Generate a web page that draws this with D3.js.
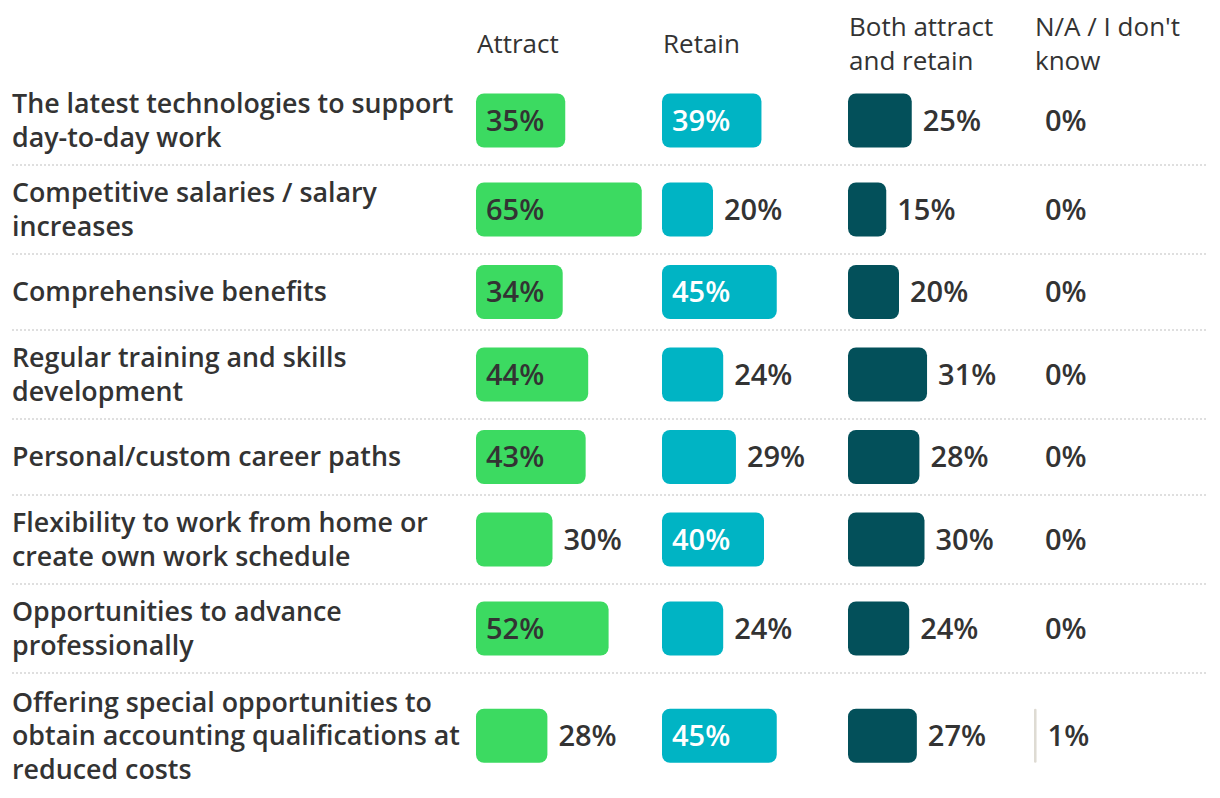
<!DOCTYPE html>
<html>
<head>
<meta charset="utf-8">
<script src="https://cdn.jsdelivr.net/npm/d3@7"></script>
<style>
  html, body { margin: 0; padding: 0; background: #ffffff; }
  svg { display: block; }
</style>
</head>
<body>
<svg id="chart" width="1220" height="798"></svg>
<script>
// ---- Data ----
const categories = [
  ["The latest technologies to support", "day-to-day work"],
  ["Competitive salaries / salary", "increases"],
  ["Comprehensive benefits"],
  ["Regular training and skills", "development"],
  ["Personal/custom career paths"],
  ["Flexibility to work from home or", "create own work schedule"],
  ["Opportunities to advance", "professionally"],
  ["Offering special opportunities to", "obtain accounting qualifications at", "reduced costs"]
];
const seriesNames = ["Attract", "Retain", "Both attract and retain", "N/A / I don't know"];
const headerLines = [["Attract"], ["Retain"], ["Both attract", "and retain"], ["N/A / I don't", "know"]];
const attract = [35, 65, 34, 44, 43, 30, 52, 28];
const retain  = [39, 20, 45, 24, 29, 40, 24, 45];
const both    = [25, 15, 20, 31, 28, 30, 24, 27];
const na      = [0, 0, 0, 0, 0, 0, 0, 1];
const seriesValues = [attract, retain, both, na];

// ---- Styles ----
const colors = ["#3cda61", "#00b4c4", "#03505a", "#dedbd3"];
const insideText = ["#333333", "#ffffff", "#ffffff", "#333333"];
const textColor = "#333333";

const svg = d3.select("#chart");

const colScale = d3.scalePoint().domain(seriesNames).range([476, 1034]);
const x = d3.scaleLinear().domain([0, 100]).range([0, 255]);

const lineH = 33.5, barH = 54, pad = 22, top0 = 76;
const rowHeights = categories.map(c => Math.max(barH, c.length * lineH) + pad + (c.length > 2 ? 3 : 0));
const rowTops = [];
rowHeights.reduce((acc, h) => { rowTops.push(acc); return acc + h; }, top0);
const rowCenter = i => rowTops[i] + rowHeights[i] / 2;

// header
const hdr = svg.append("g");
seriesNames.forEach((s, j) => {
  const lines = headerLines[j];
  const t = hdr.append("text")
    .attr("font-family", "'Open Sans', sans-serif")
    .attr("font-weight", 400)
    .attr("font-size", 26)
    .attr("fill", textColor);
  lines.forEach((ln, k) => {
    t.append("tspan")
      .attr("x", colScale(s) + 1)
      .attr("y", 44 + (k - (lines.length - 1) / 2) * 34)
      .attr("dy", "0.35em")
      .text(ln);
  });
});

// separators
svg.append("g").selectAll("line")
  .data(d3.range(1, categories.length))
  .join("line")
  .attr("x1", 12).attr("x2", 1208)
  .attr("y1", i => rowTops[i]).attr("y2", i => rowTops[i])
  .attr("stroke", "#d5d5d5")
  .attr("stroke-width", 1.6)
  .attr("stroke-dasharray", "2,2");

// category labels
const lab = svg.append("g");
categories.forEach((lines, i) => {
  const t = lab.append("text")
    .attr("font-family", "'Open Sans', sans-serif")
    .attr("font-weight", 600)
    .attr("font-size", 26.8)
    .attr("fill", textColor);
  lines.forEach((ln, k) => {
    t.append("tspan")
      .attr("x", 12)
      .attr("y", rowCenter(i) + (k - (lines.length - 1) / 2) * lineH)
      .attr("dy", "0.35em")
      .text(ln);
  });
});

// bars
const threshold = 33;
seriesNames.forEach((s, j) => {
  const g = svg.append("g");
  const vals = seriesValues[j];
  const x0 = colScale(s);
  g.selectAll("rect")
    .data(vals.map((v, i) => ({v, i})).filter(d => d.v > 0))
    .join("rect")
    .attr("x", x0)
    .attr("y", d => rowCenter(d.i) - barH / 2)
    .attr("width", d => x(d.v))
    .attr("height", barH)
    .attr("rx", d => Math.min(8, x(d.v) / 2))
    .attr("fill", colors[j]);
  g.selectAll("text")
    .data(vals.map((v, i) => ({v, i})))
    .join("text")
    .attr("x", d => d.v >= threshold ? x0 + 10 : x0 + x(d.v) + 11)
    .attr("y", d => rowCenter(d.i))
    .attr("dy", "0.36em")
    .attr("font-family", "'Open Sans', sans-serif")
    .attr("font-weight", 600)
    .attr("font-size", 29)
    .attr("fill", d => d.v >= threshold ? insideText[j] : textColor)
    .text(d => d.v + "%");
});
</script>
</body>
</html>
